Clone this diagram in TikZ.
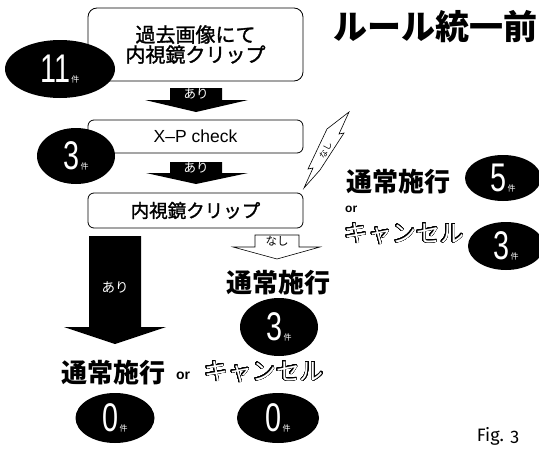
\documentclass[tikz,border=0pt]{standalone}
\usepackage{fontspec}
\usepackage{graphicx}
\usepackage{contour}
\usetikzlibrary{shapes.geometric}
\newfontfamily\jp{Noto Sans CJK JP}
\newfontfamily\jpm[FakeBold=1.5]{Noto Sans CJK JP}
\newfontfamily\lat{Liberation Sans}
\newfontfamily\figf[Numbers=OldStyle]{Fira Sans}
\contourlength{0.55pt}
\contournumber{32}
\newcommand\fsz[1]{\fontsize{#1}{#1}\selectfont}
\newcommand\cnt[1]{{\lat\fsz{40}\scalebox{0.72}[1]{#1}}\hspace{1pt}{\jp\fsz{8}件}}
\tikzset{
  flowbox/.style={draw=black, line width=0.8pt, rounded corners=6pt, minimum width=215pt, inner sep=0pt, fill=white},
  countoval/.style={ellipse, fill=black, text=white, inner sep=0pt},
  blackarrow/.style={fill=black},
  whitearrow/.style={draw=black, fill=white, line width=0.6pt},
  arrowlabel/.style={font=\jp\fsz{12.5}, text=white, inner sep=0pt},
  action/.style={font=\jp\bfseries\fsz{26}, inner sep=0pt},
  hollow/.style={font=\jp\fsz{24}, text=white, inner sep=0pt},
  orword/.style={font=\lat\bfseries\fsz{14}, inner sep=0pt},
}
\begin{document}
\begin{tikzpicture}[x=1pt,y=-1pt]
\useasboundingbox (0,0) rectangle (539,450);

% boxes
\node[flowbox, rounded corners=9pt, minimum height=73pt, align=center,
      font=\jpm\fsz{20}] (b1) at (195.5,44.5) {\baselineskip=24pt 過去画像にて\\内視鏡クリップ};
\node[flowbox, minimum height=33pt, font=\lat\fsz{17.5}] (b2) at (195.5,136.5) {X–P check};
\node[flowbox, minimum height=35pt, font=\jpm\fsz{18.5}] (b3) at (195.5,210.5) {内視鏡クリップ};

% count ovals
\node[countoval, minimum width=110pt, minimum height=58pt] (e11) at (60,69) {\cnt{11}};
\node[countoval, minimum width=78pt, minimum height=56pt] (e3a) at (76,156) {\cnt{3}};

% arrows between boxes
\fill[blackarrow] (170,88) -- (222,88) -- (222,100) -- (248,100) -- (196,112) -- (145,100) -- (170,100) -- cycle;
\node[arrowlabel] (a1) at (196,94) {あり};
\fill[blackarrow] (170,162) -- (222,162) -- (222,173) -- (248,173) -- (196,184) -- (146,173) -- (170,173) -- cycle;
\node[arrowlabel] (a2) at (196,167.5) {あり};

% big arrow
\fill[blackarrow] (89,236) -- (141,236) -- (141,327) -- (166,327) -- (115,344) -- (64,327) -- (89,327) -- cycle;
\node[arrowlabel, font=\jp\fsz{13.5}] (a3) at (115,287) {あり};

% white arrow
\draw[whitearrow] (255,235) -- (299,235) -- (299,247) -- (320,247) -- (277,259) -- (233,247) -- (255,247) -- cycle;
\node[inner sep=0pt, font=\jp\fsz{11.5}] (a4) at (277,241) {なし};

% lightning callout
\draw[whitearrow] (349,112) -- (339,134) -- (344,133) -- (320,170) -- (304,188) -- (313,168) -- (308,169) -- (327,129) -- cycle;
\node[inner sep=0pt, font=\jp\fsz{8.5}, rotate=63] (a5) at (325.5,150) {なし};

% results center
\node[action] (r1) at (278,283) {通常施行};
\node[countoval, minimum width=78pt, minimum height=58pt] (e3m) at (279,327) {\cnt{3}};

% results bottom
\node[action] (r2) at (113,373) {通常施行};
\node[orword] (o1) at (183,376) {or};
\node[hollow] (h1) at (264,372) {\contour{black}{キャンセル}};
\node[countoval, minimum width=79pt, minimum height=50pt] (e0a) at (115,418) {\cnt{0}};
\node[countoval, minimum width=82pt, minimum height=50pt] (e0b) at (278,418) {\cnt{0}};

% results right
\node[font=\jp\bfseries\fsz{34}, inner sep=0pt] (title) at (435,27) {ルール統一前};
\node[action, anchor=west] (r3) at (346,182) {通常施行};
\node[orword, font=\lat\bfseries\fsz{12}, anchor=west] (o2) at (345,209) {or};
\node[countoval, minimum width=76pt, minimum height=46pt] (e5) at (503,178) {\cnt{5}};
\node[countoval, minimum width=76pt, minimum height=48pt] (e3r) at (506,246) {\cnt{3}};
\node[hollow, anchor=west] (h2) at (344,234) {\contour{black}{キャンセル}};

% figure label
\node[font=\figf\fsz{18}, inner sep=0pt] (fig) at (498,436) {Fig. 3};
\end{tikzpicture}
\end{document}
